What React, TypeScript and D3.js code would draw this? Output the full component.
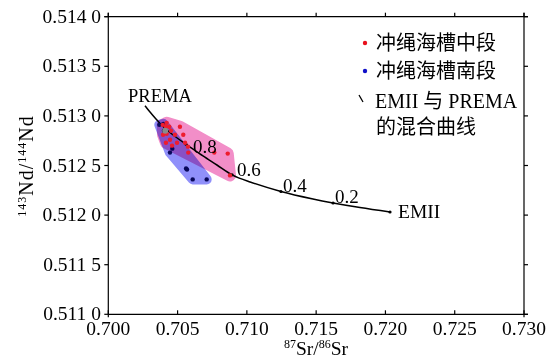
import React from "react";
import * as d3 from "d3";

const W = 555;
const H = 359;

// x ticks (87Sr/86Sr)
const xTicks = [0.7, 0.705, 0.71, 0.715, 0.72, 0.725, 0.73];
const xTickLabels = ["0.700", "0.705", "0.710", "0.715", "0.720", "0.725", "0.730"];
// y ticks (143Nd/144Nd)
const yTicks = [0.511, 0.5115, 0.512, 0.5125, 0.513, 0.5135, 0.514];
const yTickLabels = ["0.511 0", "0.511 5", "0.512 0", "0.512 5", "0.513 0", "0.513 5", "0.514 0"];

// Middle Okinawa Trough samples (red)
const midSr = [0.70393, 0.70421, 0.70416, 0.7044, 0.70421, 0.70453, 0.70481, 0.70517, 0.70541, 0.70554, 0.70577, 0.70765, 0.70862, 0.70878, 0.70445, 0.70416, 0.7046, 0.70496, 0.70575, 0.70395];
const midNd = [0.51291, 0.51293, 0.51289, 0.51289, 0.51282, 0.51285, 0.51281, 0.51289, 0.51281, 0.51273, 0.51263, 0.51263, 0.51262, 0.5124, 0.51276, 0.51273, 0.5127, 0.51273, 0.51269, 0.51281];

// South Okinawa Trough samples (dark blue)
const southSr = [0.70368, 0.70397, 0.70402, 0.70445, 0.70462, 0.70561, 0.70568, 0.70609, 0.7071];
const southNd = [0.51291, 0.51292, 0.51285, 0.51263, 0.51267, 0.51247, 0.51246, 0.51236, 0.51236];

// overlapping grey sample
const greySr = [0.70411];
const greyNd = [0.51285];

// EMII – PREMA mixing curve
const mixSr = [0.70265, 0.70301, 0.70344, 0.70388, 0.70445, 0.70517, 0.7059, 0.70683, 0.70784, 0.70893, 0.71023, 0.71246, 0.71477, 0.71622, 0.71816, 0.72033];
const mixNd = [0.513103, 0.513039, 0.512969, 0.512903, 0.512833, 0.512757, 0.512686, 0.512596, 0.512505, 0.512406, 0.512334, 0.512238, 0.512162, 0.512122, 0.512076, 0.512031];

// mixing fraction marks
const fracLabels = ["0.8", "0.6", "0.4", "0.2"];
const fracSr = [0.70561, 0.70893, 0.71246, 0.71622];
const fracNd = [0.512714, 0.512406, 0.512238, 0.512122];

const legendLabels = ["冲绳海槽中段", "冲绳海槽南段", "EMII 与 PREMA", "的混合曲线"];

const SERIF = "'Liberation Serif', 'Times New Roman', serif";
const MIXED = "'Liberation Serif', 'Noto Sans CJK SC', serif";

export default function App() {
  const x = d3.scaleLinear().domain([0.7, 0.73]).range([108.3, 524]);
  const y = d3.scaleLinear().domain([0.511, 0.514]).range([314.3, 16.7]);

  const mid = midSr.map((v, i) => [x(v), y(midNd[i])] as [number, number]);
  const south = southSr.map((v, i) => [x(v), y(southNd[i])] as [number, number]);
  const grey = greySr.map((v, i) => [x(v), y(greyNd[i])] as [number, number]);

  const hullPath = d3.line().curve(d3.curveLinearClosed);
  const midHull = d3.polygonHull(mid) || [];
  const southHull = d3.polygonHull(south) || [];

  const mixLine = d3
    .line<number>()
    .x((d) => x(d))
    .y((_, i) => y(mixNd[i]))
    .curve(d3.curveCatmullRom.alpha(0.5));

  const top = y(0.514);
  const bottom = y(0.511);
  const left = x(0.7);
  const right = x(0.73);

  const fracDx = [7, 5, 2, 2];
  const fracDy = [9, 1, 0.5, 0];

  return (
    <svg width={W} height={H} style={{ position: "absolute", left: 0, top: 0, background: "#fff" }}>
      {/* regions */}
      <g style={{ mixBlendMode: "multiply" }}>
        <path d={hullPath(midHull) || ""} fill="#f28ec8" stroke="#f28ec8" strokeWidth={12} strokeLinejoin="round" />
      </g>
      <g style={{ mixBlendMode: "multiply" }}>
        <path d={hullPath(southHull) || ""} fill="#9090fa" stroke="#9090fa" strokeWidth={10} strokeLinejoin="round" />
      </g>

      {/* mixing curve */}
      <path d={mixLine(mixSr) || ""} fill="none" stroke="#000" strokeWidth={1.5} />
      {fracSr.map((v, i) => (
        <circle key={"f" + i} cx={x(v)} cy={y(fracNd[i])} r={1.6} fill="#000" />
      ))}
      <circle cx={x(mixSr[mixSr.length - 1])} cy={y(mixNd[mixNd.length - 1])} r={1.6} fill="#000" />

      {/* points */}
      {south.map((p, i) => (
        <circle key={"s" + i} cx={p[0]} cy={p[1]} r={2.2} fill="#08085a" />
      ))}
      {mid.map((p, i) => (
        <circle key={"m" + i} cx={p[0]} cy={p[1]} r={2.2} fill="#ee1c2e" />
      ))}
      {grey.map((p, i) => (
        <circle key={"g" + i} cx={p[0]} cy={p[1]} r={3} fill="#8a8a8a" />
      ))}

      {/* fraction labels */}
      {fracLabels.map((t, i) => (
        <text key={"fl" + i} x={x(fracSr[i]) + fracDx[i]} y={y(fracNd[i]) + fracDy[i]} fontFamily={SERIF} fontSize={19}>
          {t}
        </text>
      ))}
      <text x={x(mixSr[0]) - 17} y={102} fontFamily={SERIF} fontSize={18.5}>PREMA</text>
      <text x={x(mixSr[mixSr.length - 1]) + 8} y={218} fontFamily={SERIF} fontSize={19.5}>EMII</text>

      {/* frame & axes */}
      <g stroke="#000" strokeWidth={1.2} fill="none">
        <line x1={left} x2={left} y1={top - 4} y2={bottom + 3} />
        <line x1={right} x2={right} y1={top - 4} y2={bottom + 3} />
        <line x1={left - 4} x2={right + 4} y1={top} y2={top} />
        <line x1={left} x2={right + 4} y1={bottom} y2={bottom} />
        {xTicks.map((t, i) => (
          <g key={"xt" + i}>
            <line x1={x(t)} x2={x(t)} y1={top} y2={top - 4} />
            <line x1={x(t)} x2={x(t)} y1={bottom} y2={bottom - 4} />
          </g>
        ))}
        {yTicks.map((t, i) => (
          <g key={"yt" + i}>
            <line x1={left} x2={left - 4} y1={y(t)} y2={y(t)} />
            <line x1={right} x2={right + 4} y1={y(t)} y2={y(t)} />
          </g>
        ))}
      </g>
      {xTicks.map((t, i) => (
        <text key={"xl" + i} x={x(t)} y={335} textAnchor="middle" fontFamily={SERIF} fontSize={19.5}>
          {xTickLabels[i]}
        </text>
      ))}
      {yTicks.map((t, i) => (
        <text key={"yl" + i} x={101} y={y(t) + 6} textAnchor="end" fontFamily={SERIF} fontSize={19.5}>
          {yTickLabels[i]}
        </text>
      ))}

      {/* axis titles */}
      <text x={316} y={355} textAnchor="middle" fontFamily={SERIF} fontSize={19.5}>
        <tspan fontSize={12} dy={-7}>87</tspan>
        <tspan dy={7}>Sr/</tspan>
        <tspan fontSize={12} dy={-7}>86</tspan>
        <tspan dy={7}>Sr</tspan>
      </text>
      <text transform="translate(33,166) rotate(-90)" textAnchor="middle" fontFamily={SERIF} fontSize={20} letterSpacing={1}>
        <tspan fontSize={12} dy={-7}>143</tspan>
        <tspan dy={7}>Nd/</tspan>
        <tspan fontSize={12} dy={-7}>144</tspan>
        <tspan dy={7}>Nd</tspan>
      </text>

      {/* legend */}
      <circle cx={365} cy={43} r={2.2} fill="#e8101c" />
      <circle cx={365} cy={71} r={2.2} fill="#1010c8" />
      <line x1={359} y1={95} x2={363} y2={102} stroke="#000" strokeWidth={1.3} />
      <text x={376} y={50} fontFamily={MIXED} fontSize={20}>{legendLabels[0]}</text>
      <text x={376} y={78} fontFamily={MIXED} fontSize={20}>{legendLabels[1]}</text>
      <text x={375} y={108} fontFamily={MIXED} fontSize={20}>{legendLabels[2]}</text>
      <text x={376} y={134} fontFamily={MIXED} fontSize={20}>{legendLabels[3]}</text>
    </svg>
  );
}
